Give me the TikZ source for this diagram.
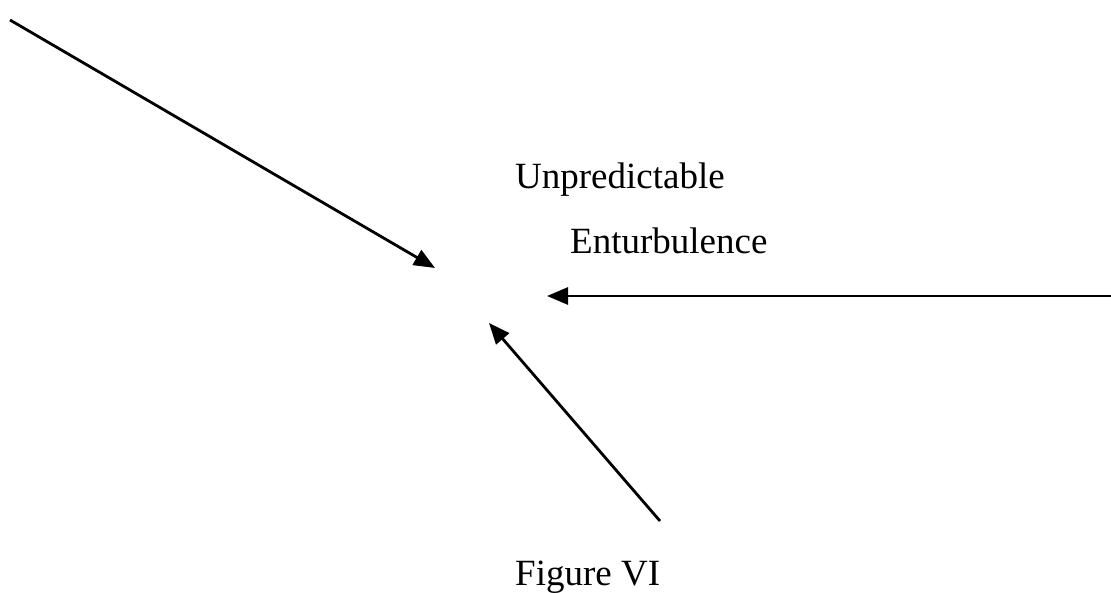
\documentclass[tikz,border=0pt]{standalone}
\usepackage{fontspec}
\setmainfont{Liberation Serif}
\usetikzlibrary{arrows.meta}
\begin{document}
\begin{tikzpicture}[x=1pt,y=-1pt,
  lbl/.style={anchor=base west,inner sep=0pt,font=\fontsize{37}{40}\selectfont},
  arr/.style={line width=2.8pt,-{Triangle[length=21pt,width=17pt]}}]
\useasboundingbox (0,0) rectangle (1111,593);
\node[lbl] (t1) at (515,189) {Unpredictable};
\node[lbl] (t2) at (570,254) {Enturbulence};
\node[lbl] (t3) at (515,585) {Figure VI};
\coordinate (a1s) at (10,20);
\coordinate (a1e) at (435,268);
\coordinate (a2s) at (1111,296);
\coordinate (a2e) at (547,296);
\coordinate (a3s) at (660,521);
\coordinate (a3e) at (489,323);
\draw[arr] (a1s) -- (a1e);
\draw[arr] (a2s) -- (a2e);
\draw[arr] (a3s) -- (a3e);
\end{tikzpicture}
\end{document}
